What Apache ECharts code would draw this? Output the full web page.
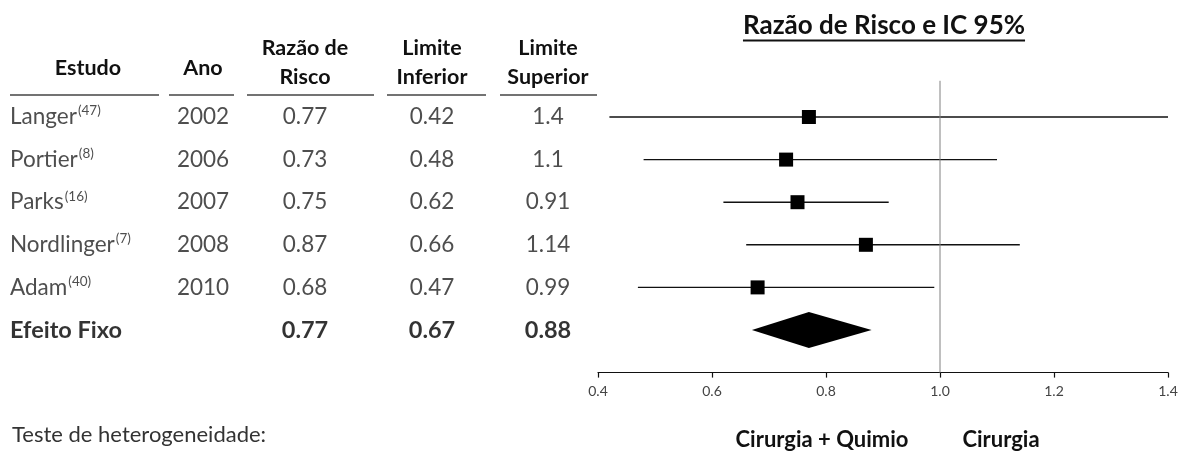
<!DOCTYPE html>
<html><head><meta charset="utf-8">
<script src="https://cdn.jsdelivr.net/npm/echarts@6/dist/echarts.min.js"></script>
<style>html,body{margin:0;padding:0;background:#fff}#c{width:1186px;height:458px}</style>
</head><body><div id="c"></div>
<script>
// ---- data ----
const studies = ['Langer', 'Portier', 'Parks', 'Nordlinger', 'Adam'];
const refs = ['47', '8', '16', '7', '40'];
const years = ['2002', '2006', '2007', '2008', '2010'];
const riskRatio = [0.77, 0.73, 0.75, 0.87, 0.68];
const lowerLimit = [0.42, 0.48, 0.62, 0.66, 0.47];
const upperLimit = [1.4, 1.1, 0.91, 1.14, 0.99];
const pooledLabel = 'Efeito Fixo';
const pooledRR = 0.77, pooledLower = 0.67, pooledUpper = 0.88;
const xTicks = [0.4, 0.6, 0.8, 1.0, 1.2, 1.4];
const nullValue = 1.0;

// ---- layout ----
const FONT = 'Lato, "Open Sans", sans-serif';
const gridTop = 74.4, rowH = 42.6;
const colName = 10, colYear = 203, colRR = 305, colLo = 432, colHi = 548;
const pooledRow = studies.length;
const DATA_FS = 22.5;

const chart = echarts.init(document.getElementById('c'), null, {renderer: 'canvas'});

function textLabel(text, x, row, opts) {
  return {value: [x, row], label: Object.assign({show: true, formatter: text}, opts || {})};
}
const tableData = [];
studies.forEach((s, i) => {
  tableData.push({value: [colName, i], label: {show: true, position: 'right', distance: 0,
    formatter: '{n|' + s + '}{s|(' + refs[i] + ')}'}});
  tableData.push(textLabel(years[i], colYear, i));
  tableData.push(textLabel(riskRatio[i].toFixed(2), colRR, i));
  tableData.push(textLabel(lowerLimit[i].toFixed(2), colLo, i));
  tableData.push(textLabel(String(upperLimit[i]), colHi, i));
});
const boldLbl = {fontWeight: 'bold', color: '#000', fontSize: 23.5};
tableData.push({value: [colName, pooledRow], label: Object.assign({show: true, position: 'right', distance: 0, formatter: pooledLabel}, boldLbl)});
tableData.push(textLabel(pooledRR.toFixed(2), colRR, pooledRow, boldLbl));
tableData.push(textLabel(pooledLower.toFixed(2), colLo, pooledRow, boldLbl));
tableData.push(textLabel(pooledUpper.toFixed(2), colHi, pooledRow, boldLbl));

// measure title for underline
const cv = document.createElement('canvas').getContext('2d');
const titleText = 'Razão de Risco e IC 95%';
const titleFont = 'bold 26px ' + FONT;
cv.font = titleFont;
const titleW = cv.measureText(titleText).width;
const titleCx = 884;

const headerStyle = {font: 'bold 21.5px ' + FONT, fill: '#111', textAlign: 'center', textVerticalAlign: 'middle', lineHeight: 29};
const headers = [
  {t: 'Estudo', x: 88, y: 68}, {t: 'Ano', x: colYear, y: 68},
  {t: 'Razão de\nRisco', x: colRR, y: 63}, {t: 'Limite\nInferior', x: colLo, y: 63},
  {t: 'Limite\nSuperior', x: colHi, y: 63}
];
const underlines = [[10, 159], [169, 234], [247, 374], [387, 486], [500, 597]];

const graphics = [];
headers.forEach(h => graphics.push({type: 'text', x: h.x, y: h.y, style: Object.assign({text: h.t}, headerStyle)}));
underlines.forEach(u => graphics.push({type: 'line', shape: {x1: u[0], y1: 95, x2: u[1], y2: 95}, style: {stroke: '#444', lineWidth: 1.5}}));
graphics.push({type: 'text', x: titleCx, y: 26, style: {text: titleText, font: titleFont, fill: '#111', textAlign: 'center', textVerticalAlign: 'middle'}});
graphics.push({type: 'line', shape: {x1: titleCx - titleW / 2, y1: 40.5, x2: titleCx + titleW / 2, y2: 40.5}, style: {stroke: '#111', lineWidth: 2}});
graphics.push({type: 'text', x: 12, y: 435, style: {text: 'Teste de heterogeneidade:', font: '22px ' + FONT, fill: '#333', textVerticalAlign: 'middle'}});
graphics.push({type: 'text', x: 822, y: 440, style: {text: 'Cirurgia + Quimio', font: 'bold 22px ' + FONT, fill: '#111', textAlign: 'center', textVerticalAlign: 'middle'}});
graphics.push({type: 'text', x: 1001, y: 440, style: {text: 'Cirurgia', font: 'bold 22px ' + FONT, fill: '#111', textAlign: 'center', textVerticalAlign: 'middle'}});

const rowAxis = (gi) => ({type: 'value', gridIndex: gi, min: -1, max: 6, inverse: true, show: false});

const option = {
  animation: false,
  textStyle: {fontFamily: FONT},
  grid: [
    {left: 598, right: 18, top: gridTop, height: rowH * 7},
    {left: 0, right: 0, top: gridTop, height: rowH * 7}
  ],
  xAxis: [
    {type: 'value', gridIndex: 0, min: 0.4, max: 1.4, interval: 0.2,
     axisLine: {show: true, onZero: false, lineStyle: {color: '#111', width: 1.2}},
     axisTick: {show: true, inside: false, length: 5, lineStyle: {color: '#111', width: 1.2}},
     splitLine: {show: false},
     axisLabel: {margin: 12, showMinLabel: true, showMaxLabel: true,
       formatter: v => '{t|' + v.toFixed(1) + '}',
       rich: {t: {fontSize: 14, color: '#444', fontFamily: FONT}}}},
    {type: 'value', gridIndex: 1, min: 0, max: 1186, show: false}
  ],
  yAxis: [rowAxis(0), rowAxis(1)],
  graphic: graphics,
  series: [
    {type: 'line', xAxisIndex: 0, yAxisIndex: 0, symbol: 'none', silent: true,
     data: [[nullValue, -0.85], [nullValue, 6]], lineStyle: {color: '#808080', width: 1}},
    {type: 'custom', xAxisIndex: 0, yAxisIndex: 0,
     data: studies.map((s, i) => [lowerLimit[i], upperLimit[i], i]),
     renderItem: (params, api) => {
       const a = api.coord([api.value(0), api.value(2)]);
       const b = api.coord([api.value(1), api.value(2)]);
       return {type: 'line', shape: {x1: a[0], y1: a[1], x2: b[0], y2: b[1]}, style: {stroke: '#111', lineWidth: 1.4}};
     }},
    {type: 'scatter', xAxisIndex: 0, yAxisIndex: 0, symbol: 'rect', symbolSize: 14,
     itemStyle: {color: '#000', opacity: 1}, data: riskRatio.map((v, i) => [v, i])},
    {type: 'custom', xAxisIndex: 0, yAxisIndex: 0,
     data: [[pooledLower, pooledRR, pooledUpper, pooledRow]],
     renderItem: (params, api) => {
       const r = api.value(3);
       const l = api.coord([api.value(0), r]);
       const c = api.coord([api.value(1), r]);
       const h = api.coord([api.value(2), r]);
       const half = api.size([0, 0.42])[1];
       return {type: 'polygon', shape: {points: [[l[0], l[1]], [c[0], c[1] - half], [h[0], h[1]], [c[0], c[1] + half]]},
               style: {fill: '#000'}};
     }},
    {type: 'scatter', xAxisIndex: 1, yAxisIndex: 1, symbolSize: 0, clip: false, silent: true,
     data: tableData,
     label: {show: true, position: 'inside', fontSize: DATA_FS, color: '#222', fontFamily: FONT,
       rich: {n: {fontSize: DATA_FS, color: '#222', fontFamily: FONT},
              s: {fontSize: 13.5, color: '#222', fontFamily: FONT, verticalAlign: 'top', padding: [0, 0, 12, 1]}}}}
  ]
};
chart.setOption(option);
</script></body></html>
